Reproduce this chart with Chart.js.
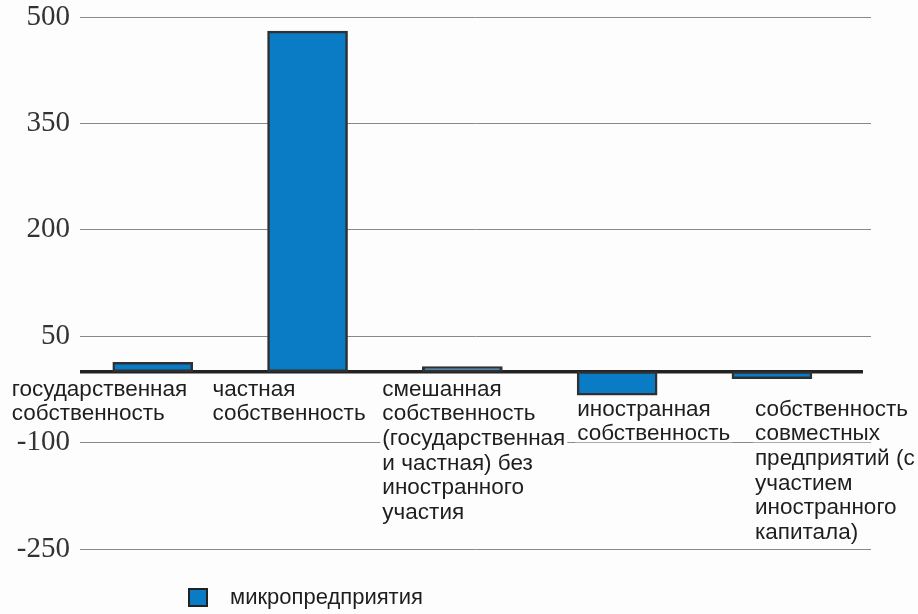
<!DOCTYPE html>
<html>
<head>
<meta charset="utf-8">
<script src="https://cdn.jsdelivr.net/npm/chart.js@4/dist/chart.umd.min.js"></script>
<style>
  html, body { margin: 0; padding: 0; background: #fdfdfd; }
  #wrap { width: 918px; height: 614px; }
</style>
</head>
<body>
<div id="wrap"><canvas id="chart"></canvas></div>
<script>
// --- ДАННЫЕ ---
const categories = [
    ['государственная', 'собственность'],
    ['частная', 'собственность'],
    ['смешанная', 'собственность', '(государственная', 'и частная) без', 'иностранного', 'участия'],
    ['иностранная', 'собственность'],
    ['собственность', 'совместных', 'предприятий (с', 'участием', 'иностранного', 'капитала)']
];
const seriesName = 'микропредприятия';
const microValues = [13, 480, 7, -33, -10];
const yTicks = [500, 350, 200, 50, -100, -250];

// --- ОФОРМЛЕНИЕ ---
const barColor = '#0a7bc5';
const labelFont = '22.5px "Liberation Sans", Arial, sans-serif';
const labelDx = [-141, -95, -80, -40, -17];
const labelShift = [0, 0, 0, 20, 20];

const labelsPlugin = {
    id: 'labelsPlugin',
    beforeDatasetsDraw(chart) {
        const { ctx, chartArea, scales: { y } } = chart;
        const y0 = y.getPixelForValue(0);
        ctx.save();
        ctx.strokeStyle = '#222';
        ctx.lineWidth = 3.5;
        ctx.beginPath();
        ctx.moveTo(chartArea.left, y0);
        ctx.lineTo(chartArea.right - 8, y0);
        ctx.stroke();
        ctx.restore();
    },
    afterDatasetsDraw(chart) {
        const { ctx, scales: { x, y } } = chart;
        const y0 = y.getPixelForValue(0);
        ctx.save();
        ctx.font = labelFont;
        ctx.textBaseline = 'middle';
        ctx.textAlign = 'left';
        categories.forEach((lines, i) => {
            const left = x.getPixelForValue(i) + labelDx[i];
            lines.forEach((line, j) => {
                const cy = y0 + 18 + labelShift[i] + j * 24.6;
                const w = ctx.measureText(line).width;
                ctx.fillStyle = '#fdfdfd';
                ctx.fillRect(left - 2, cy - 12, w + 4, 20);
                ctx.fillStyle = '#1e1e1e';
                ctx.fillText(line, left, cy);
            });
        });
        // легенда
        ctx.fillStyle = barColor;
        ctx.fillRect(189, 589, 18, 17);
        ctx.strokeStyle = '#222';
        ctx.lineWidth = 2;
        ctx.strokeRect(189, 589, 18, 17);
        ctx.fillStyle = '#1e1e1e';
        ctx.font = '22px "Liberation Sans", Arial, sans-serif';
        ctx.fillText(seriesName, 230, 598);
        ctx.restore();
    }
};

new Chart(document.getElementById('chart'), {
    type: 'bar',
    data: {
        datasets: [{
            label: seriesName,
            data: microValues.map((v, i) => ({ x: i, y: v })),
            backgroundColor: barColor,
            borderColor: '#303030',
            borderWidth: 2.5,
            borderSkipped: false,
            barThickness: 80
        }]
    },
    options: {
        responsive: true,
        maintainAspectRatio: false,
        animation: false,
        layout: { padding: { top: 17, right: 47, bottom: 65, left: 0 } },
        plugins: { legend: { display: false }, tooltip: { enabled: false } },
        scales: {
            x: {
                type: 'linear',
                offset: false,
                min: -0.47,
                max: 4.64,
                display: false
            },
            y: {
                min: -250,
                max: 500,
                afterBuildTicks: (scale) => { scale.ticks = yTicks.map(v => ({ value: v })); },
                afterFit: (scale) => { scale.width = 80; scale.paddingTop = 0; scale.paddingBottom = 0; },
                border: { display: false },
                grid: { color: '#8a8a8a', lineWidth: 1, drawTicks: false },
                ticks: {
                    padding: 10,
                    color: '#333',
                    font: { family: '"Liberation Serif", "Times New Roman", serif', size: 29, lineHeight: 0.5 }
                }
            }
        }
    },
    plugins: [labelsPlugin]
});
</script>
</body>
</html>
